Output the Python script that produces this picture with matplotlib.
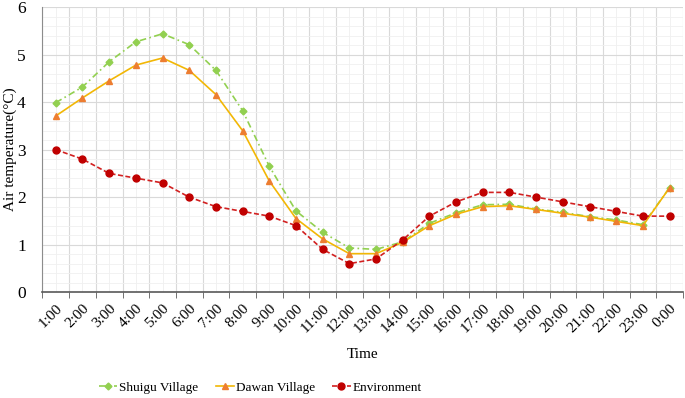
import numpy as np
import matplotlib.pyplot as plt
from matplotlib.ticker import MultipleLocator, FixedLocator

plt.rcParams['font.family'] = ['Liberation Serif', 'DejaVu Serif']

# hourly air temperature (degC)
hours = ["1:00", "2:00", "3:00", "4:00", "5:00", "6:00", "7:00", "8:00", "9:00", "10:00",
         "11:00", "12:00", "13:00", "14:00", "15:00", "16:00", "17:00", "18:00", "19:00",
         "20:00", "21:00", "22:00", "23:00", "0:00"]
shuigu = [3.99, 4.32, 4.85, 5.27, 5.44, 5.21, 4.67, 3.82, 2.65, 1.71, 1.26, 0.93,
          0.90, 1.06, 1.45, 1.67, 1.84, 1.85, 1.75, 1.68, 1.59, 1.52, 1.42, 2.2]
dawan = [3.71, 4.09, 4.45, 4.78, 4.93, 4.67, 4.16, 3.40, 2.34, 1.55, 1.12, 0.81,
         0.81, 1.05, 1.40, 1.64, 1.80, 1.82, 1.74, 1.66, 1.58, 1.49, 1.40, 2.20]
environment = [3.0, 2.8, 2.5, 2.4, 2.3, 2.0, 1.8, 1.7, 1.6, 1.4, 0.9, 0.6,
               0.7, 1.1, 1.6, 1.9, 2.1, 2.1, 2.0, 1.9, 1.8, 1.7, 1.6, 1.6]

x = np.arange(len(hours))

fig = plt.figure(figsize=(6.85, 3.98), dpi=100)
ax = fig.add_axes([0.062, 0.266, 0.935, 0.716])

ax.plot(x, shuigu, color="#92d050", ls=(0, (4, 2, 1, 2)), lw=1.2, marker="D", ms=3.5,
        mfc="#92d050", mec="#92d050", label="Shuigu Village", zorder=3)
ax.plot(x, dawan, color="#f2b705", ls="-", lw=1.2, marker="^", ms=5,
        mfc="#ed7d31", mec="#ed7d31", label="Dawan Village", zorder=4)
ax.plot(x, environment, color="#d22020", ls=(0, (3, 1.5)), lw=1.2, marker="o", ms=5,
        mfc="#c00000", mec="#c00000", label="Environment", zorder=5)

ax.set_xlim(-0.5, len(hours) - 0.5)
ax.set_ylim(0, 6)

# labels at category centres, tick marks on the boundaries
ax.set_xticks(x)
ax.set_xticklabels(hours, rotation=45, ha="right", rotation_mode="anchor", fontsize=11)
ax.xaxis.set_minor_locator(FixedLocator(np.arange(-0.5, len(hours), 1.0)))
ax.tick_params(axis="x", which="major", length=0, pad=7)
ax.tick_params(axis="x", which="minor", length=4, direction="out", color="#595959")
ax.yaxis.set_major_locator(MultipleLocator(1))
ax.yaxis.set_minor_locator(MultipleLocator(0.2))
ax.tick_params(axis="y", which="both", length=0, labelsize=12.5, pad=12)

ax.grid(axis="x", which="minor", color="#d9d9d9", lw=0.8)
ax.grid(axis="x", which="major", color="#efefef", lw=0.6)
ax.grid(axis="y", which="major", color="#d9d9d9", lw=0.8)
ax.grid(axis="y", which="minor", color="#f0f0f0", lw=0.6)
ax.set_axisbelow(True)

for side in ["top", "right"]:
    ax.spines[side].set_visible(False)
ax.spines["left"].set_color("#8c8c8c")
ax.spines["bottom"].set_color("#595959")
ax.spines["bottom"].set_linewidth(1.2)

ax.set_ylabel("Air temperature(°C)", fontsize=11)
ax.yaxis.set_label_coords(-0.040, 0.5)
ax.set_xlabel("Time", fontsize=11, labelpad=9)

ax.legend(loc="center", bbox_to_anchor=(0.38, 0.026), bbox_transform=fig.transFigure,
          ncol=3, frameon=False, fontsize=9.5, handlelength=1.4, handletextpad=0.15,
          columnspacing=1.3, borderaxespad=0)

fig.savefig("out.png", dpi=100)
